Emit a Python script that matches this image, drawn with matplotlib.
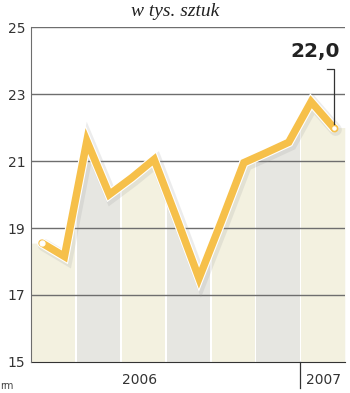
import matplotlib
matplotlib.use('Agg')
import matplotlib.pyplot as plt
import matplotlib.patheffects as pe
from matplotlib.patches import Rectangle
import matplotlib.transforms as mtransforms

# --- dane ---
months = list(range(14))  # I.2006 ... II.2007
values = [18.55, 18.15, 21.6, 20.0, 20.5, 21.05, 19.3, 17.5, 19.2, 20.95, 21.25, 21.56, 22.77, 22.0]
yticks = [15, 17, 19, 21, 23, 25]
year_labels = ['2006', '2007']
year_pos = [4.36, 12.56]
last_label = '22,0'

# --- kolory ---
col_line = '#f6c04a'
col_beige = '#f3f1e0'
col_gray = '#e6e6e1'
col_grid = '#6e6e6e'

fig = plt.figure(figsize=(3.5, 3.93), dpi=100)
ax = fig.add_axes([0.088, 0.079, 0.897, 0.852])
ax.set_xlim(-0.5, 13.5)
ax.set_ylim(15, 25)

# wypelnienie do krawedzi osi (ta sama wartosc na brzegach)
fill_x = [-0.5] + months + [13.5]
fill_y = [values[0]] + values + [values[-1]]

# pasy tla pod linia (co 2 miesiace)
gap = 0.06
for i in range(7):
    x0 = 2 * i - 0.5 + (gap if i > 0 else 0)
    x1 = 2 * i + 1.5 - (gap if i < 6 else 0)
    color = col_beige if i % 2 == 0 else col_gray
    poly = ax.fill_between(fill_x, fill_y, 15, color=color, lw=0, zorder=1)
    rect = Rectangle((x0, 15), x1 - x0, 10, transform=ax.transData, visible=False)
    ax.add_patch(rect)
    poly.set_clip_path(rect)

# siatka
for y in yticks[1:]:
    ax.axhline(y, color=col_grid, lw=1, zorder=2)

# linia
ax.plot(months, values, color=col_line, lw=5.4, solid_joinstyle='miter',
        solid_capstyle='round', zorder=4,
        path_effects=[pe.SimpleLineShadow(offset=(1.5, -1.5), shadow_color='#999999', alpha=0.18, linewidth=9),
                      pe.Stroke(linewidth=7, foreground='white'), pe.Normal()])
ax.plot(months[0], values[0], 'o', ms=3.5, color='white', mec='white', zorder=5)
ax.plot(months[-1], values[-1], 'o', ms=4.5, color='white', mec=col_line, mew=1.2, zorder=5)

# etykieta ostatniej wartosci
ax.plot([12.7, 13, 13], [23.75, 23.75, values[-1] + 0.1], color='#333333', lw=0.9, zorder=6)
ax.text(13.28, 24.26, last_label, ha='right', va='center', fontsize=14.5,
        fontweight='bold', color='#222222', zorder=6)

# osie
for s in ['top', 'right']:
    ax.spines[s].set_visible(False)
ax.spines['left'].set_color(col_grid)
ax.spines['bottom'].set_color('#333333')
ax.spines['left'].set_zorder(3)
ax.set_yticks(yticks)
ax.set_yticklabels([str(y) for y in yticks], fontsize=10, color='#333333')
ax.tick_params(axis='y', length=0, pad=4)
ax.set_xticks([])

# lata
trans = mtransforms.blended_transform_factory(ax.transData, ax.transAxes)
for lab, xp in zip(year_labels, year_pos):
    ax.text(xp, -0.055, lab, transform=trans, ha='center', va='center',
            fontsize=10, color='#333333')
ax.plot([11.5, 11.5], [0, -0.078], transform=trans, color='#333333', lw=0.9, clip_on=False)

# tytul
fig.text(0.5, 0.972, 'w tys. sztuk', ha='center', va='center', fontsize=14,
         family='Liberation Serif', style='italic', color='#222222')
fig.text(0.0, 0.018, 'rm', ha='left', va='center', fontsize=7, color='#444444')

fig.savefig('out.png', dpi=100)
